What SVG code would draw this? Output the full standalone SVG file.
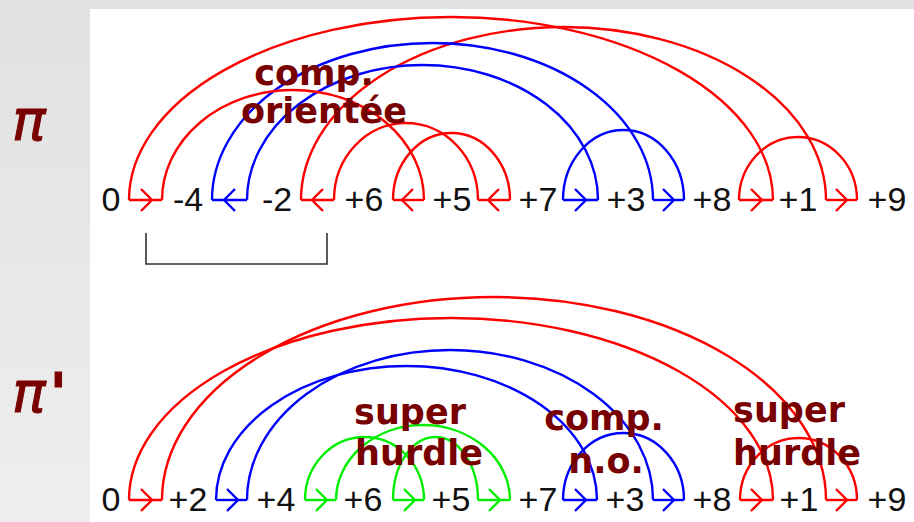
<svg xmlns="http://www.w3.org/2000/svg" xmlns:xlink="http://www.w3.org/1999/xlink" width="914" height="522" viewBox="0 0 914 522">
  <defs>
    <linearGradient id="bg" x1="0" y1="0" x2="0" y2="1">
      <stop offset="0" stop-color="#e1e1e1"/>
      <stop offset="1" stop-color="#eeeeee"/>
    </linearGradient>
    <path id="chevR" d="M-5,-11 L6,0 L-5,11"/>
    <path id="chevL" d="M5,-11 L-6,0 L5,11"/>
    <style>
      .r { stroke: #ff0000; }
      .b { stroke: #0000ff; }
      .g { stroke: #00ee00; }
      .ln { fill: none; stroke-width: 2.4; }
      .num { font-family: "Liberation Sans", Arial, sans-serif; font-size: 34px; fill: #111111; text-anchor: middle; }
      .ann { font-family: "DejaVu Sans", Verdana, sans-serif; font-weight: bold; font-size: 35px; fill: #780000; text-anchor: middle; }
      .pi { font-family: "DejaVu Sans", sans-serif; font-size: 56px; fill: #780000; stroke: #780000; stroke-width: 1; }
    </style>
  </defs>

  <rect x="0" y="0" width="914" height="522" fill="url(#bg)"/>
  <rect x="90" y="9" width="824" height="513" fill="#ffffff"/>

  <g id="label-pi">
    <text class="pi" x="12" y="140" font-style="italic">π</text>
  </g>
  <g id="label-pi-prime">
    <text class="pi" x="12" y="412"><tspan font-style="italic">π</tspan><tspan dx="4" font-weight="bold">'</tspan></text>
  </g>

  <g id="connectors" class="ln">
    <!-- top permutation pi : arcs -->
    <path class="r" d="M129,200 A322,183 0 0 1 773,200"/>
    <path class="r" d="M301,200 A262.5,173 0 0 1 826,200"/>
    <path class="b" d="M212,200 A220.5,157 0 0 1 653,200"/>
    <path class="b" d="M247,200 A175.5,135 0 0 1 598,200"/>
    <path class="r" d="M162,200 A131,110 0 0 1 424,200"/>
    <path class="r" d="M334,200 A72,77 0 0 1 478,200"/>
    <path class="r" d="M393,200 A58.5,67 0 0 1 510,200"/>
    <path class="b" d="M563,200 A60.5,70 0 0 1 684,200"/>
    <path class="r" d="M739,200 A59,63 0 0 1 857,200"/>
    <!-- top gaps -->
    <path class="r" d="M129,200 H162"/><use class="r" href="#chevR" x="146" y="200"/>
    <path class="b" d="M212,200 H247"/><use class="b" href="#chevL" x="230" y="200"/>
    <path class="r" d="M301,200 H334"/><use class="r" href="#chevL" x="318" y="200"/>
    <path class="r" d="M393,200 H424"/><use class="r" href="#chevL" x="408" y="200"/>
    <path class="r" d="M478,200 H510"/><use class="r" href="#chevL" x="494" y="200"/>
    <path class="b" d="M563,200 H598"/><use class="b" href="#chevR" x="580" y="200"/>
    <path class="b" d="M653,200 H684"/><use class="b" href="#chevR" x="668" y="200"/>
    <path class="r" d="M739,200 H773"/><use class="r" href="#chevR" x="756" y="200"/>
    <path class="r" d="M826,200 H857"/><use class="r" href="#chevR" x="841" y="200"/>

    <!-- bottom permutation pi' : arcs -->
    <path class="r" d="M129,500 A322,182 0 0 1 773,500"/>
    <path class="r" d="M162,500 A332,203 0 0 1 826,500"/>
    <path class="b" d="M216,500 A190.5,134 0 0 1 597,500"/>
    <path class="b" d="M247,500 A203,150 0 0 1 653,500"/>
    <path class="b" d="M563,500 A60.5,67 0 0 1 684,500"/>
    <path class="r" d="M740,500 A58.5,62 0 0 1 857,500"/>
    <path class="g" d="M305,500 A59.5,63 0 0 1 424,500"/>
    <path class="g" d="M336,500 A87,75 0 0 1 510,500"/>
    <path class="g" d="M393,500 A42.5,63 0 0 1 478,500"/>
    <!-- bottom gaps -->
    <path class="r" d="M129,500 H162"/><use class="r" href="#chevR" x="146" y="500"/>
    <path class="b" d="M216,500 H247"/><use class="b" href="#chevR" x="232" y="500"/>
    <path class="g" d="M305,500 H336"/><use class="g" href="#chevR" x="321" y="500"/>
    <path class="g" d="M393,500 H424"/><use class="g" href="#chevR" x="409" y="500"/>
    <path class="g" d="M478,500 H510"/><use class="g" href="#chevR" x="494" y="500"/>
    <path class="b" d="M563,500 H597"/><use class="b" href="#chevR" x="580" y="500"/>
    <path class="b" d="M653,500 H684"/><use class="b" href="#chevR" x="668" y="500"/>
    <path class="r" d="M740,500 H773"/><use class="r" href="#chevR" x="756" y="500"/>
    <path class="r" d="M826,500 H857"/><use class="r" href="#chevR" x="841" y="500"/>
  </g>

  <g id="bracket">
    <path d="M146,233 V264 H327 V233" fill="none" stroke="#333333" stroke-width="1.6"/>
  </g>

  <g id="pi-elements">
    <g id="p0"><text class="num" x="111" y="211">0</text></g>
    <g id="p-4"><text class="num" x="188" y="211">-4</text></g>
    <g id="p-2"><text class="num" x="277" y="211">-2</text></g>
    <g id="p+6"><text class="num" x="364" y="211">+6</text></g>
    <g id="p+5"><text class="num" x="452" y="211">+5</text></g>
    <g id="p+7"><text class="num" x="538" y="211">+7</text></g>
    <g id="p+3"><text class="num" x="626" y="211">+3</text></g>
    <g id="p+8"><text class="num" x="712" y="211">+8</text></g>
    <g id="p+1"><text class="num" x="798" y="211">+1</text></g>
    <g id="p+9"><text class="num" x="887" y="211">+9</text></g>
  </g>

  <g id="pi-prime-elements">
    <g id="q0"><text class="num" x="111" y="511">0</text></g>
    <g id="q+2"><text class="num" x="188" y="511">+2</text></g>
    <g id="q+4"><text class="num" x="276" y="511">+4</text></g>
    <g id="q+6"><text class="num" x="363" y="511">+6</text></g>
    <g id="q+5"><text class="num" x="451" y="511">+5</text></g>
    <g id="q+7"><text class="num" x="538" y="511">+7</text></g>
    <g id="q+3"><text class="num" x="625" y="511">+3</text></g>
    <g id="q+8"><text class="num" x="712" y="511">+8</text></g>
    <g id="q+1"><text class="num" x="799" y="511">+1</text></g>
    <g id="q+9"><text class="num" x="887" y="511">+9</text></g>
  </g>

  <g id="annotations">
    <g id="ann-comp-orientee">
      <text class="ann" x="314" y="85">comp.</text>
      <text class="ann" x="324" y="123">orientée</text>
    </g>
    <g id="ann-super-hurdle-1">
      <text class="ann" x="410" y="424">super</text>
      <text class="ann" x="419" y="465">hurdle</text>
    </g>
    <g id="ann-comp-no">
      <text class="ann" x="604" y="430">comp.</text>
      <text class="ann" x="606" y="473">n.o.</text>
    </g>
    <g id="ann-super-hurdle-2">
      <text class="ann" x="789" y="422">super</text>
      <text class="ann" x="797" y="465">hurdle</text>
    </g>
  </g>
</svg>
